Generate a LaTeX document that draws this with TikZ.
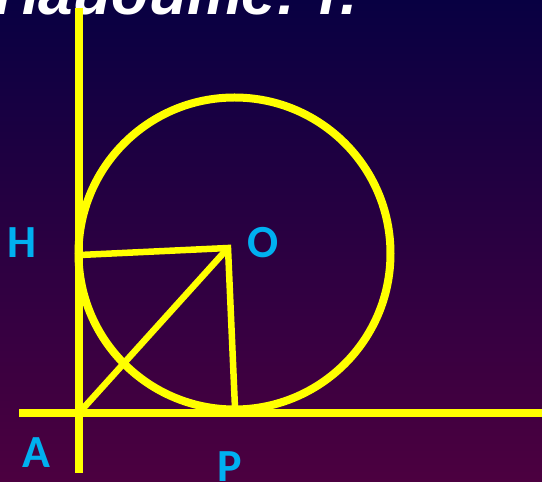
\documentclass[tikz,border=0pt]{standalone}
\usepackage{fontspec}
\setmainfont{Liberation Sans}
\newfontfamily\labelfont{Carlito}
\usetikzlibrary{positioning}
\definecolor{bgtop}{RGB}{8,0,66}
\definecolor{bgbot}{RGB}{76,0,64}
\definecolor{lblcyan}{RGB}{0,176,240}
\definecolor{lineyel}{RGB}{255,255,0}
\tikzset{
  axisline/.style={draw=lineyel,line width=8pt},
  segline/.style={draw=lineyel,line width=6.5pt},
  ptlabel/.style={font=\labelfont\bfseries\fontsize{46}{46}\selectfont,text=lblcyan,inner sep=0pt}
}
\begin{document}
\begin{tikzpicture}[x=1pt,y=1pt]
\shade[top color=bgtop,bottom color=bgbot] (0,0) rectangle (542,482);
\useasboundingbox (0,0) rectangle (542,482);
\begin{scope}
\clip (0,0) rectangle (542,482);
\node[anchor=base west,inner sep=0pt,text=white,font=\bfseries\itshape\fontsize{62}{62}\selectfont] (title) at (-6,467) {Найдите: r.};
\end{scope}
% points
\coordinate (A) at (79,69);
\coordinate (H) at (80,227);
\coordinate (O) at (228,234);
\coordinate (P) at (235,74);
\coordinate (C) at (234.5,228.5);
\coordinate (vtop) at (79,474);
\coordinate (vbot) at (79,9);
\coordinate (hleft) at (19,69);
\coordinate (hright) at (545,69);
% lines
\draw[axisline] (vtop) -- (vbot);
\draw[axisline] (hleft) -- (hright);
\draw[axisline] (C) circle[radius=156];
\draw[segline] (H) -- (O) -- (P);
\draw[segline] (A) -- (O);
% labels
\node[ptlabel] (lH) at (22,239) {H};
\node[ptlabel] (lO) at (263,239) {O};
\node[ptlabel] (lA) at (36,29) {A};
\node[ptlabel] (lP) at (230,15) {P};
\end{tikzpicture}
\end{document}
